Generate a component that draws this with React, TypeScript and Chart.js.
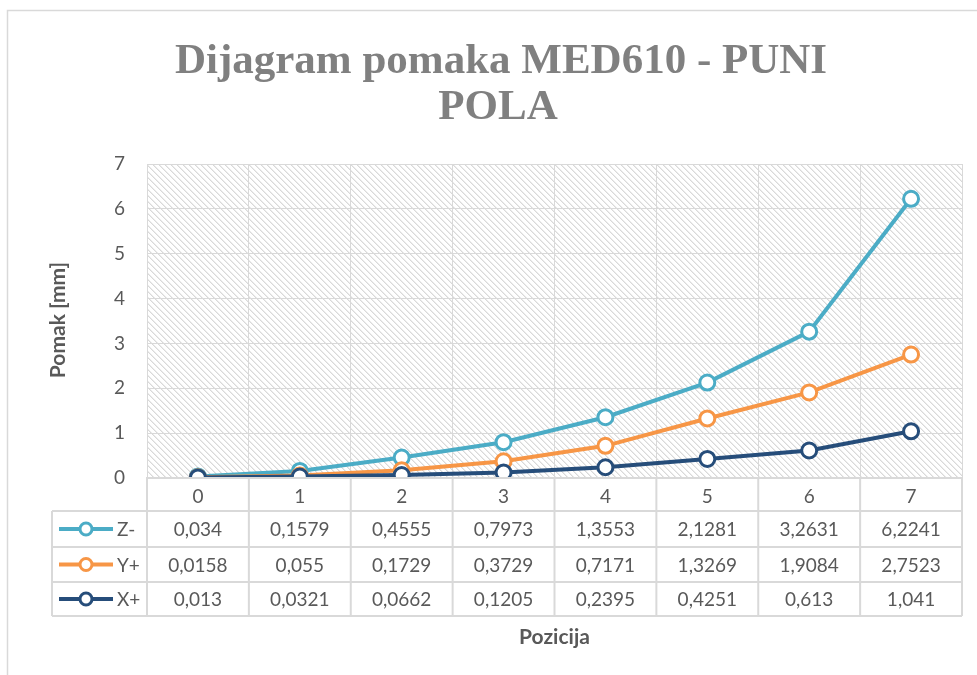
import React, { useEffect, useRef } from "react";
import { Chart, registerables } from "chart.js";

Chart.register(...registerables);

const titleLines = ["Dijagram pomaka MED610 - PUNI", "POLA"];
const yAxisTitle = "Pomak [mm]";
const xAxisTitle = "Pozicija";
const categories = ["0", "1", "2", "3", "4", "5", "6", "7"];
const seriesNames = ["Z-", "Y+", "X+"];
const zMinus = [0.034, 0.1579, 0.4555, 0.7973, 1.3553, 2.1281, 3.2631, 6.2241];
const yPlus = [0.0158, 0.055, 0.1729, 0.3729, 0.7171, 1.3269, 1.9084, 2.7523];
const xPlus = [0.013, 0.0321, 0.0662, 0.1205, 0.2395, 0.4251, 0.613, 1.041];
const seriesColors = ["#4BACC6", "#F79646", "#264D7A"];

const FONT = "Lato, 'Open Sans', sans-serif";
const TEXT = "#595959";
const GRID = "#d9d9d9";

function makePattern(ctx: CanvasRenderingContext2D) {
  const c = document.createElement("canvas");
  const s = 6;
  c.width = s;
  c.height = s;
  const g = c.getContext("2d")!;
  g.fillStyle = "#ffffff";
  g.fillRect(0, 0, s, s);
  for (let i = 0; i < s; i++) {
    g.fillStyle = "#d9d9d9";
    g.fillRect(i, i, 1, 1);
    g.fillStyle = "#ececec";
    g.fillRect((i + 1) % s, i, 1, 1);
  }
  return ctx.createPattern(c, "repeat");
}

const fmt = (v: number) => String(v).replace(".", ",");

export default function App() {
  const ref = useRef<HTMLCanvasElement | null>(null);
  useEffect(() => {
    const canvas = ref.current!;
    const seriesData = [zMinus, yPlus, xPlus];

    const customPlugin = {
      id: "custom",
      beforeDraw(chart: any) {
        const { ctx, chartArea } = chart;
        ctx.save();
        ctx.fillStyle = "#ffffff";
        ctx.fillRect(0, 0, chart.width, chart.height);
        // outer border
        ctx.strokeStyle = GRID;
        ctx.lineWidth = 1.5;
        ctx.beginPath();
        ctx.moveTo(7.5, chart.height + 2);
        ctx.lineTo(7.5, 10.5);
        ctx.lineTo(chart.width + 2, 10.5);
        ctx.stroke();
        // hatched plot area
        const pat = makePattern(ctx);
        if (pat) {
          ctx.fillStyle = pat;
          ctx.fillRect(chartArea.left, chartArea.top, chartArea.right - chartArea.left, chartArea.bottom - chartArea.top);
        }
        // title
        ctx.fillStyle = "#808080";
        ctx.font = "bold 43px 'Liberation Serif', 'DejaVu Serif', serif";
        ctx.textAlign = "center";
        ctx.textBaseline = "middle";
        ctx.fillText(titleLines[0], 501, 62);
        ctx.fillText(titleLines[1], 498, 108);
        // y axis title
        ctx.save();
        ctx.translate(58, 320);
        ctx.rotate(-Math.PI / 2);
        ctx.fillStyle = TEXT;
        ctx.font = `bold 21px ${FONT}`;
        ctx.fillText(yAxisTitle, 0, 0);
        ctx.restore();
        ctx.restore();
      },
      afterDraw(chart: any) {
        const { ctx, chartArea } = chart;
        const xs = chart.scales.x;
        const n = categories.length;
        const left = chartArea.left;
        const right = chartArea.right;
        const step = (right - left) / n;
        const top = chartArea.bottom;
        const rowTops = [top, top + 33, top + 69, top + 104, top + 138];
        const tableLeft = 52;
        ctx.save();
        ctx.strokeStyle = GRID;
        ctx.lineWidth = 2;
        ctx.beginPath();
        ctx.moveTo(left, rowTops[0]);
        ctx.lineTo(right, rowTops[0]);
        for (let r = 1; r < rowTops.length; r++) {
          ctx.moveTo(tableLeft, rowTops[r]);
          ctx.lineTo(right, rowTops[r]);
        }
        ctx.moveTo(tableLeft, rowTops[1]);
        ctx.lineTo(tableLeft, rowTops[4]);
        for (let k = 0; k <= n; k++) {
          const x = left + k * step;
          ctx.moveTo(x, rowTops[0]);
          ctx.lineTo(x, rowTops[4]);
        }
        ctx.stroke();

        ctx.fillStyle = TEXT;
        ctx.font = `19px ${FONT}`;
        ctx.textAlign = "center";
        ctx.textBaseline = "middle";
        for (let s = 0; s < seriesNames.length; s++) {
          const cy = (rowTops[s + 1] + rowTops[s + 2]) / 2 + 1;
          for (let i = 0; i < n; i++) {
            const cx = xs.getPixelForValue(i);
            ctx.fillText(fmt(seriesData[s][i]), cx, cy);
          }
          ctx.strokeStyle = seriesColors[s];
          ctx.lineWidth = 4;
          ctx.beginPath();
          ctx.moveTo(59, cy - 1);
          ctx.lineTo(113, cy - 1);
          ctx.stroke();
          ctx.beginPath();
          ctx.arc(86, cy - 1, 6, 0, Math.PI * 2);
          ctx.fillStyle = "#ffffff";
          ctx.fill();
          ctx.lineWidth = 3;
          ctx.stroke();
          ctx.fillStyle = TEXT;
          ctx.textAlign = "left";
          ctx.fillText(seriesNames[s], 117, cy);
          ctx.textAlign = "center";
        }
        ctx.font = `bold 21px ${FONT}`;
        ctx.fillText(xAxisTitle, (left + right) / 2, 637);
        ctx.restore();
      },
    };

    const mk = (label: string, data: number[], color: string) => ({
      label,
      data,
      borderColor: color,
      backgroundColor: "#ffffff",
      borderWidth: 4,
      pointRadius: 7.5,
      pointBorderWidth: 3,
      pointBackgroundColor: "#ffffff",
      pointBorderColor: color,
      tension: 0,
    });

    const chart = new Chart(canvas, {
      type: "line",
      data: {
        labels: categories,
        datasets: [
          mk(seriesNames[2], xPlus, seriesColors[2]),
          mk(seriesNames[1], yPlus, seriesColors[1]),
          mk(seriesNames[0], zMinus, seriesColors[0]),
        ],
      },
      options: {
        animation: false,
        responsive: true,
        maintainAspectRatio: false,
        layout: { padding: { left: 0, top: 164, right: 15, bottom: 0 } },
        plugins: {
          legend: { display: false },
          title: { display: false },
          tooltip: { enabled: false },
        },
        scales: {
          x: {
            offset: true,
            grid: { offset: true, color: GRID, lineWidth: 1, drawTicks: false },
            border: { display: true, color: GRID, width: 2 },
            ticks: { color: TEXT, font: { size: 19, family: FONT }, padding: 7 },
            afterFit: (scale: any) => {
              scale.height = 675 - 478;
            },
          },
          y: {
            min: 0,
            max: 7,
            grid: { color: GRID, lineWidth: 1, drawTicks: false },
            border: { display: true, color: GRID, width: 1 },
            ticks: { stepSize: 1, color: TEXT, font: { size: 19, family: FONT }, padding: 22 },
            afterFit: (scale: any) => {
              scale.width = 147;
            },
          },
        },
      },
      plugins: [customPlugin],
    });
    return () => chart.destroy();
  }, []);

  return (
    <div style={{ position: "fixed", left: 0, top: 0, width: 977, height: 675 }}>
      <canvas ref={ref} />
    </div>
  );
}
